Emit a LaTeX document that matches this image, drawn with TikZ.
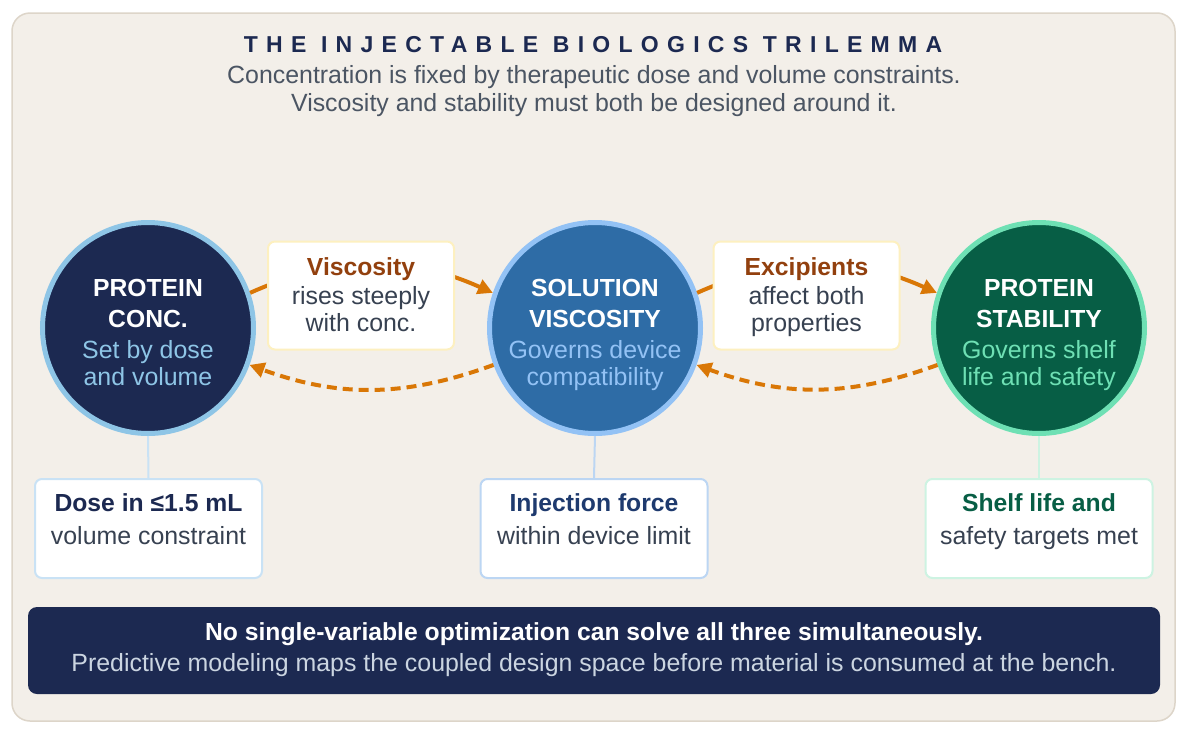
\documentclass[tikz,border=0pt]{standalone}
\usepackage{fontspec}
\setmainfont{Liberation Sans}
\newfontfamily\titlefont[LetterSpace=36]{Liberation Sans}
\usetikzlibrary{arrows.meta}
\definecolor{panel}{HTML}{F3EFE9}
\definecolor{panelline}{HTML}{DDD5C9}
\definecolor{navy}{HTML}{1C2951}
\definecolor{sky}{HTML}{8EC5E6}
\definecolor{steel}{HTML}{2E6CA6}
\definecolor{ice}{HTML}{93C2F5}
\definecolor{forest}{HTML}{075E45}
\definecolor{mint}{HTML}{6EE0B4}
\definecolor{amber}{HTML}{D97706}
\definecolor{butter}{HTML}{FDF0C0}
\definecolor{rust}{HTML}{92400E}
\definecolor{ink}{HTML}{374151}
\definecolor{slate}{HTML}{4B5563}
\definecolor{midnavy}{HTML}{1E3A6E}
\definecolor{skyline}{HTML}{C9E2F5}
\definecolor{iceline}{HTML}{BCD6F3}
\definecolor{mintline}{HTML}{CDF3E2}
\definecolor{fog}{HTML}{CBD5E1}
\begin{document}
\begin{tikzpicture}[x=1pt,y=-1pt,
  ring/.style={circle,minimum size=211pt,line width=5pt,inner sep=0pt},
  box/.style={rectangle,rounded corners=7pt,fill=white,line width=2pt},
  hd/.style={anchor=base,inner sep=0pt,font=\fontsize{24.7}{28}\selectfont\bfseries},
  tx/.style={anchor=base,inner sep=0pt,font=\fontsize{24.9}{28}\selectfont},
  flow/.style={draw=amber,line width=4pt,-{Triangle[length=15pt,width=15pt]}},
  back/.style={flow,dash pattern=on 10pt off 6pt},
  link/.style={line width=2pt}]
\useasboundingbox (0,0) rectangle (1187,734);
\fill[white] (0,0) rectangle (1187,734);
\draw[rounded corners=18pt,fill=panel,draw=panelline,line width=1.5pt] (12,13) rectangle (1175,721);
\node[anchor=base,inner sep=0pt,text=navy,font=\titlefont\fontsize{23}{28}\selectfont\bfseries] (title) at (593,52) {THE INJECTABLE BIOLOGICS TRILEMMA};
\node[tx,text=slate] (sub1) at (594,83) {Concentration is fixed by therapeutic dose and volume constraints.};
\node[tx,text=slate] (sub2) at (594,111) {Viscosity and stability must both be designed around it.};
\node[ring,fill=navy,draw=sky] (conc) at (148,328) {};
\node[ring,fill=steel,draw=ice] (visc) at (595,328) {};
\node[ring,fill=forest,draw=mint] (stab) at (1039,328) {};
\node[hd,text=white] (conc1) at (148,296.7) {PROTEIN};
\node[hd,text=white] (conc2) at (148,327.7) {CONC.};
\node[tx,text=sky] (conc3) at (148,358) {Set by dose};
\node[tx,text=sky] (conc4) at (148,385.5) {and volume};
\node[hd,text=white] (visc1) at (595,296.7) {SOLUTION};
\node[hd,text=white] (visc2) at (595,327.7) {VISCOSITY};
\node[tx,text=ice] (visc3) at (595,358) {Governs device};
\node[tx,text=ice] (visc4) at (595,385.5) {compatibility};
\node[hd,text=white] (stab1) at (1039,296.7) {PROTEIN};
\node[hd,text=white] (stab2) at (1039,327.7) {STABILITY};
\node[tx,text=mint] (stab3) at (1039,358) {Governs shelf};
\node[tx,text=mint] (stab4) at (1039,385.5) {life and safety};
\draw[flow] (conc.19) to[bend left=24] (visc.161);
\draw[flow] (visc.19) to[bend left=24] (stab.161);
\draw[back] (visc.200) to[bend left=20] (conc.-20);
\draw[back] (stab.200) to[bend left=20] (visc.-20);
\node[box,draw=butter,minimum width=186pt,minimum height=108pt] (vbox) at (361,295.5) {};
\node[hd,text=rust] (vbox1) at (361,275.5) {Viscosity};
\node[tx,text=ink] (vbox2) at (361,304) {rises steeply};
\node[tx,text=ink] (vbox3) at (361,331.5) {with conc.};
\node[box,draw=butter,minimum width=186pt,minimum height=108pt] (ebox) at (806.5,295.5) {};
\node[hd,text=rust] (ebox1) at (806.5,275.5) {Excipients};
\node[tx,text=ink] (ebox2) at (806.5,304) {affect both};
\node[tx,text=ink] (ebox3) at (806.5,331.5) {properties};
\node[box,draw=skyline,minimum width=227pt,minimum height=99pt] (dose) at (148.5,528.5) {};
\node[box,draw=iceline,minimum width=227pt,minimum height=99pt] (force) at (594,528.5) {};
\node[box,draw=mintline,minimum width=227pt,minimum height=99pt] (shelf) at (1039,528.5) {};
\draw[link,draw=skyline] (conc.south) -- (dose.north);
\draw[link,draw=iceline] (visc.south) -- (force.north);
\draw[link,draw=mintline] (stab.south) -- (shelf.north);
\node[hd,text=navy] (dose1) at (148.5,511.7) {Dose in ≤1.5 mL};
\node[tx,text=ink] (dose2) at (148.5,544) {volume constraint};
\node[hd,text=midnavy] (force1) at (594,511.7) {Injection force};
\node[tx,text=ink] (force2) at (594,544) {within device limit};
\node[hd,text=forest] (shelf1) at (1039,511.7) {Shelf life and};
\node[tx,text=ink] (shelf2) at (1039,544) {safety targets met};
\node[rectangle,rounded corners=9pt,fill=navy,minimum width=1132pt,minimum height=87pt] (foot) at (594,650.5) {};
\node[hd,text=white] (foot1) at (594,640) {No single-variable optimization can solve all three simultaneously.};
\node[tx,text=fog] (foot2) at (594,671) {Predictive modeling maps the coupled design space before material is consumed at the bench.};
\end{tikzpicture}
\end{document}
